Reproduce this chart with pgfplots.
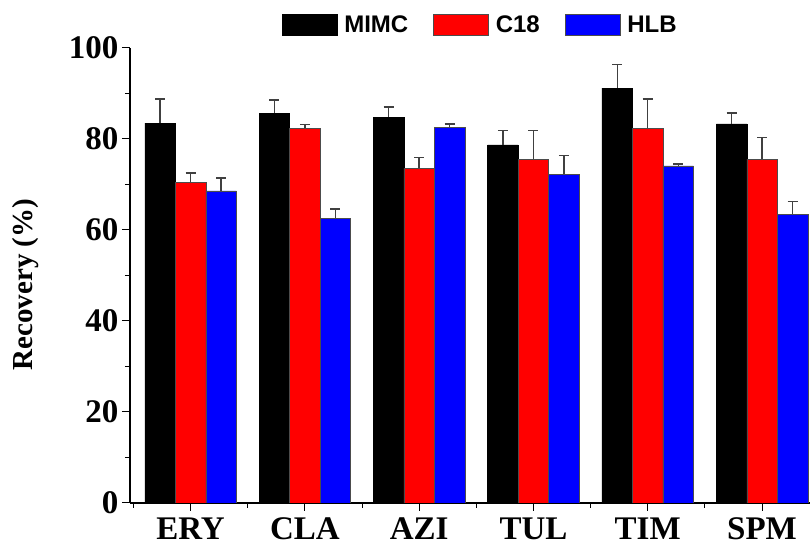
\documentclass[border=0pt]{standalone}
\usepackage{pgfplots}
\pgfplotsset{compat=1.18}
\usepackage{fontspec}
\setmainfont{Liberation Serif}
\newfontfamily\legfont{Liberation Sans}

\pgfplotstableread{
x  val   err
0  83.5  5.3
1  85.7  2.9
2  84.8  2.2
3  78.7  3.1
4  91.2  5.1
5  83.3  2.4
}\mimc
\pgfplotstableread{
x  val   err
0  70.5  2.0
1  82.4  0.8
2  73.6  2.4
3  75.6  6.2
4  82.4  6.4
5  75.6  4.8
}\cet
\pgfplotstableread{
x  val   err
0  68.6  2.8
1  62.6  2.0
2  82.6  0.7
3  72.3  4.0
4  74.1  0.4
5  63.5  2.7
}\hlb

\begin{document}
\begin{tikzpicture}
\path[use as bounding box] (-130bp,-44bp) rectangle (680bp,503bp);
\begin{axis}[
  at={(0,0)}, anchor=south west,
  scale only axis,
  width=680bp, height=455bp,
  xmin=-0.53, xmax=5.42,
  ymin=0, ymax=100,
  axis x line=bottom, axis y line=left,
  axis line style={-, line width=1.2bp},
  ybar=0pt, bar width=30.5bp,
  xtick={0,1,2,3,4,5},
  xticklabels={ERY,CLA,AZI,TUL,TIM,SPM},
  minor xtick={-0.5,0.5,1.5,2.5,3.5,4.5},
  ytick={0,20,40,60,80,100},
  minor ytick={10,30,50,70,90},
  tick align=outside,
  major tick length=8bp, minor tick length=5bp,
  every tick/.style={line width=1bp, black},
  /pgf/number format/assume math mode=true,
  ticklabel style={font=\fontsize{33bp}{35bp}\selectfont\bfseries},
  xticklabel style={yshift=-3bp},
  ylabel={Recovery (\%)},
  every axis y label/.style={at={(axis description cs:-0.154,0.48)}, rotate=90, anchor=center,
    font=\fontsize{29bp}{31bp}\selectfont\bfseries},
  legend columns=3,
  legend style={draw=none, fill=none, at={(axis description cs:0.515,1.05)}, anchor=center,
    font=\fontsize{24bp}{26bp}\selectfont\legfont\bfseries,
    /tikz/every even column/.append style={column sep=23bp},
    /tikz/every odd column/.append style={column sep=5bp}},
  legend image code/.code={\draw[#1, line width=0.5bp] (0bp,-10.5bp) rectangle (55bp,10.5bp);},
  error bars/y dir=plus, error bars/y explicit,
  error bars/error bar style={line width=1.3bp, black!75},
  error bars/error mark options={rotate=90, mark size=5bp, line width=1.3bp, black!75},
]
\addplot[fill=black, draw=black] table[x=x, y=val, y error=err] {\mimc};
\addplot[fill=red, draw=black!70] table[x=x, y=val, y error=err] {\cet};
\addplot[fill=blue, draw=black!70] table[x=x, y=val, y error=err] {\hlb};
\legend{MIMC, C18, HLB}
\end{axis}
\end{tikzpicture}
\end{document}
